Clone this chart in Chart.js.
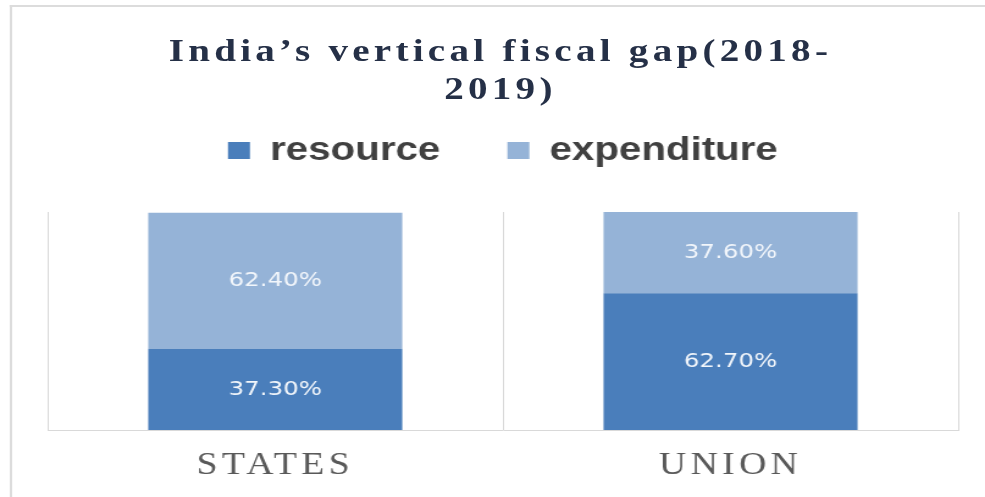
<!DOCTYPE html>
<html>
<head>
<meta charset="utf-8">
<title>India's vertical fiscal gap</title>
<script src="https://cdn.jsdelivr.net/npm/chart.js@4"></script>
<style>
  html, body { margin: 0; padding: 0; background: #fff; overflow: hidden; }
  /* the source picture is stretched sideways, so draw narrow and widen */
  #stage { position: relative; width: 807px; height: 497px; transform: scaleX(1.2206); transform-origin: 0 0; }
  #frame { position: absolute; left: 8px; top: 5px; right: -20px; bottom: -20px; border-left: 2px solid #dcdcdc; border-top: 2px solid #dcdcdc; }
  #title { position: absolute; left: 0; top: 31px; width: 820px; text-align: center; font: bold 32px "Liberation Serif", serif; letter-spacing: 3.5px; line-height: 38px; color: #253047; }
  #wrap { position: absolute; left: 0; top: 0; width: 807px; height: 497px; }
</style>
</head>
<body>
<div id="stage">
  <div id="frame"></div>
  <div id="wrap"><canvas id="gapChart"></canvas></div>
  <div id="title">India’s vertical fiscal gap(2018-<br>2019)</div>
</div>
<script>
const categories = ['STATES', 'UNION'];
const seriesNames = ['resource', 'expenditure'];
const resource = [37.3, 62.7];
const expenditure = [62.4, 37.6];

// value labels inside each segment, then letter spacing for the x labels
// (ticks have z:1 so they are drawn after the datasets)
const barLabels = {
  id: 'barLabels',
  afterDatasetsDraw(chart) {
    const ctx = chart.ctx;
    ctx.save();
    ctx.font = '20px "DejaVu Sans"';
    ctx.fillStyle = '#f2f6fb';
    ctx.textAlign = 'center';
    ctx.textBaseline = 'middle';
    chart.data.datasets.forEach((ds, i) => {
      chart.getDatasetMeta(i).data.forEach((bar, j) => {
        ctx.fillText(ds.data[j].toFixed(2) + '%', bar.x, (bar.y + bar.base) / 2);
      });
    });
    ctx.restore();
    ctx.letterSpacing = '3.5px';
  },
  afterDraw(chart) {
    chart.ctx.letterSpacing = '0px';
  }
};

new Chart(document.getElementById('gapChart'), {
  type: 'bar',
  data: {
    labels: categories,
    datasets: [
      { label: seriesNames[0], data: resource, backgroundColor: '#4a7ebb', borderWidth: 0, xAxisID: 'x' },
      { label: seriesNames[1], data: expenditure, backgroundColor: '#95b3d7', borderWidth: 0, xAxisID: 'x' }
    ]
  },
  options: {
    responsive: true,
    maintainAspectRatio: false,
    animation: false,
    barPercentage: 0.558,
    categoryPercentage: 1,
    layout: { padding: { top: 79, left: 39, right: 22, bottom: 13 } },
    plugins: {
      legend: {
        position: 'top',
        labels: {
          font: { family: '"Liberation Sans", Arial, sans-serif', size: 33, weight: 'bold' },
          color: '#404040',
          boxWidth: 18,
          boxHeight: 17,
          padding: 55
        }
      },
      tooltip: { enabled: false }
    },
    scales: {
      x: {
        stacked: true,
        grid: { color: '#d9d9d9', drawTicks: false, offset: true },
        border: { color: '#d9d9d9' },
        ticks: {
          font: { family: '"Liberation Serif", serif', size: 31 },
          color: '#595959',
          padding: 17,
          z: 1
        },
        afterFit(scale) { scale.height = 54; }
      },
      xTop: {
        type: 'category',
        position: 'top',
        grid: { display: false },
        border: { display: false },
        ticks: { display: false },
        afterFit(scale) { scale.height = 35; }
      },
      y: {
        display: false,
        stacked: true,
        min: 0,
        max: 100
      }
    }
  },
  plugins: [barLabels]
});
</script>
</body>
</html>
